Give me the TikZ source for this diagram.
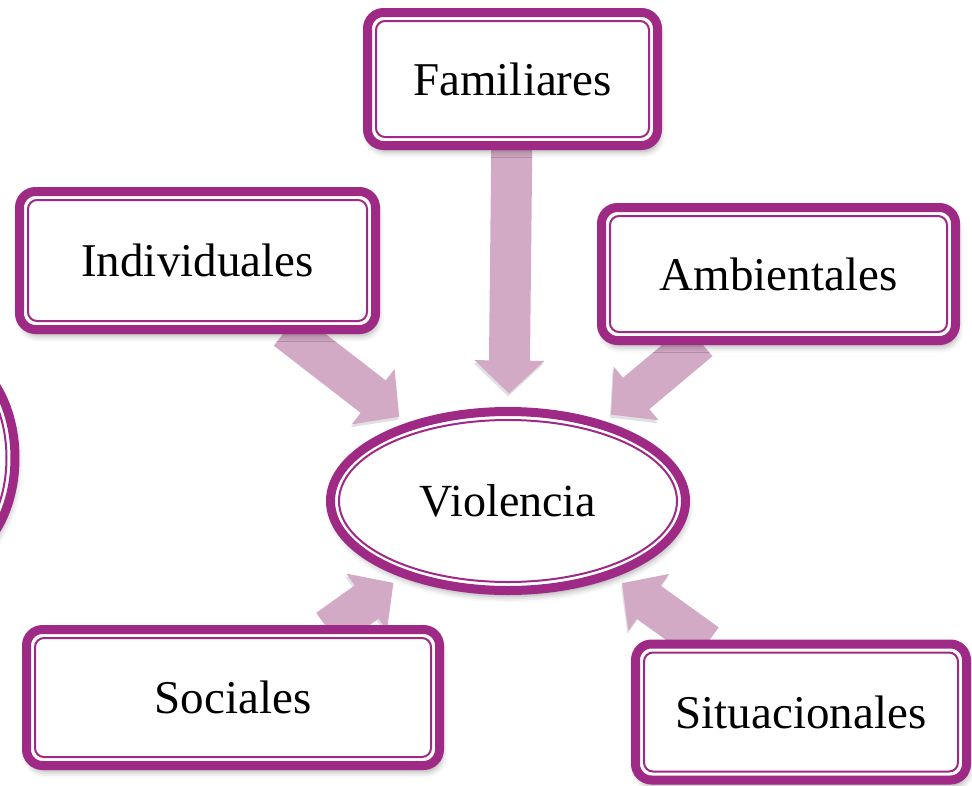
\documentclass[tikz,border=0pt]{standalone}
\usepackage{fontspec}
\setmainfont{Liberation Serif}
\usetikzlibrary{arrows.meta,backgrounds,shadows.blur,shapes.geometric}

\definecolor{vpurple}{RGB}{158,42,134}
\definecolor{flowpink}{RGB}{211,170,198}

\tikzset{
	factor/.style={draw=vpurple, line width=9pt, rounded corners=16pt, fill=white,
		outer sep=0pt, inner sep=0pt, font=\fontsize{47}{50}\selectfont,
		blur shadow={shadow xshift=2pt, shadow yshift=-6pt, shadow blur radius=6pt, shadow opacity=35}},
	center/.style={factor, ellipse, rounded corners=0pt, font=\fontsize{46}{50}\selectfont},
	innerline/.style={draw=vpurple, line width=2pt},
	flow/.style={draw=flowpink, line width=41pt, -{Triangle[length=33pt,width=68pt]},
		preaction={draw=black, opacity=.12, transform canvas={xshift=-1pt,yshift=-3pt}}},
}

\newcommand{\innerbox}[1]{%
	\draw[innerline, rounded corners=9pt] ([shift={(8.5pt,8.5pt)}]#1.south west) rectangle ([shift={(-8.5pt,-8.5pt)}]#1.north east);}

\begin{document}
\begin{tikzpicture}[x=1pt,y=-1pt]
	
	\useasboundingbox (0,0) rectangle (972,785);
	\clip (0,0) rectangle (972,785);
	
	% factores
	\node[factor, minimum width=290, minimum height=133] (fam) at (512.5,79) {Familiares};
	\node[factor, minimum width=356, minimum height=138] (ind) at (197.5,260.5) {Individuales};
	\node[factor, minimum width=354, minimum height=133] (amb) at (778.5,274) {Ambientales};
	\node[factor, minimum width=413, minimum height=136] (soc) at (233,697.5) {Sociales};
	\node[factor, minimum width=331, minimum height=136] (sit) at (801,712) {Situacionales};
	
	\foreach \n in {fam,ind,amb,soc,sit}
		\innerbox{\n};
	
	% centro
	\node[center, minimum width=355, minimum height=179] (viol) at (508,501) {Violencia};
	\draw[innerline] (viol.center) ellipse [x radius=169pt, y radius=81pt];
	
	% elipse cortada a la izquierda
	\node[center, minimum width=140, minimum height=210] (otro) at (-55,458) {};
	\draw[innerline] (otro.center) ellipse [x radius=61.5pt, y radius=96.5pt];
	
	\begin{scope}[on background layer]
		\draw[flow, shorten >=18pt] (fam) -- (viol);
		\draw[flow, shorten >=15pt] (ind) -- (viol);
		\draw[flow, shorten >=15pt] (amb) -- (viol);
		\draw[flow, shorten >=15pt] (soc) -- (viol);
		\draw[flow, shorten >=15pt] (sit) -- (viol);
	\end{scope}
	
\end{tikzpicture}
\end{document}
